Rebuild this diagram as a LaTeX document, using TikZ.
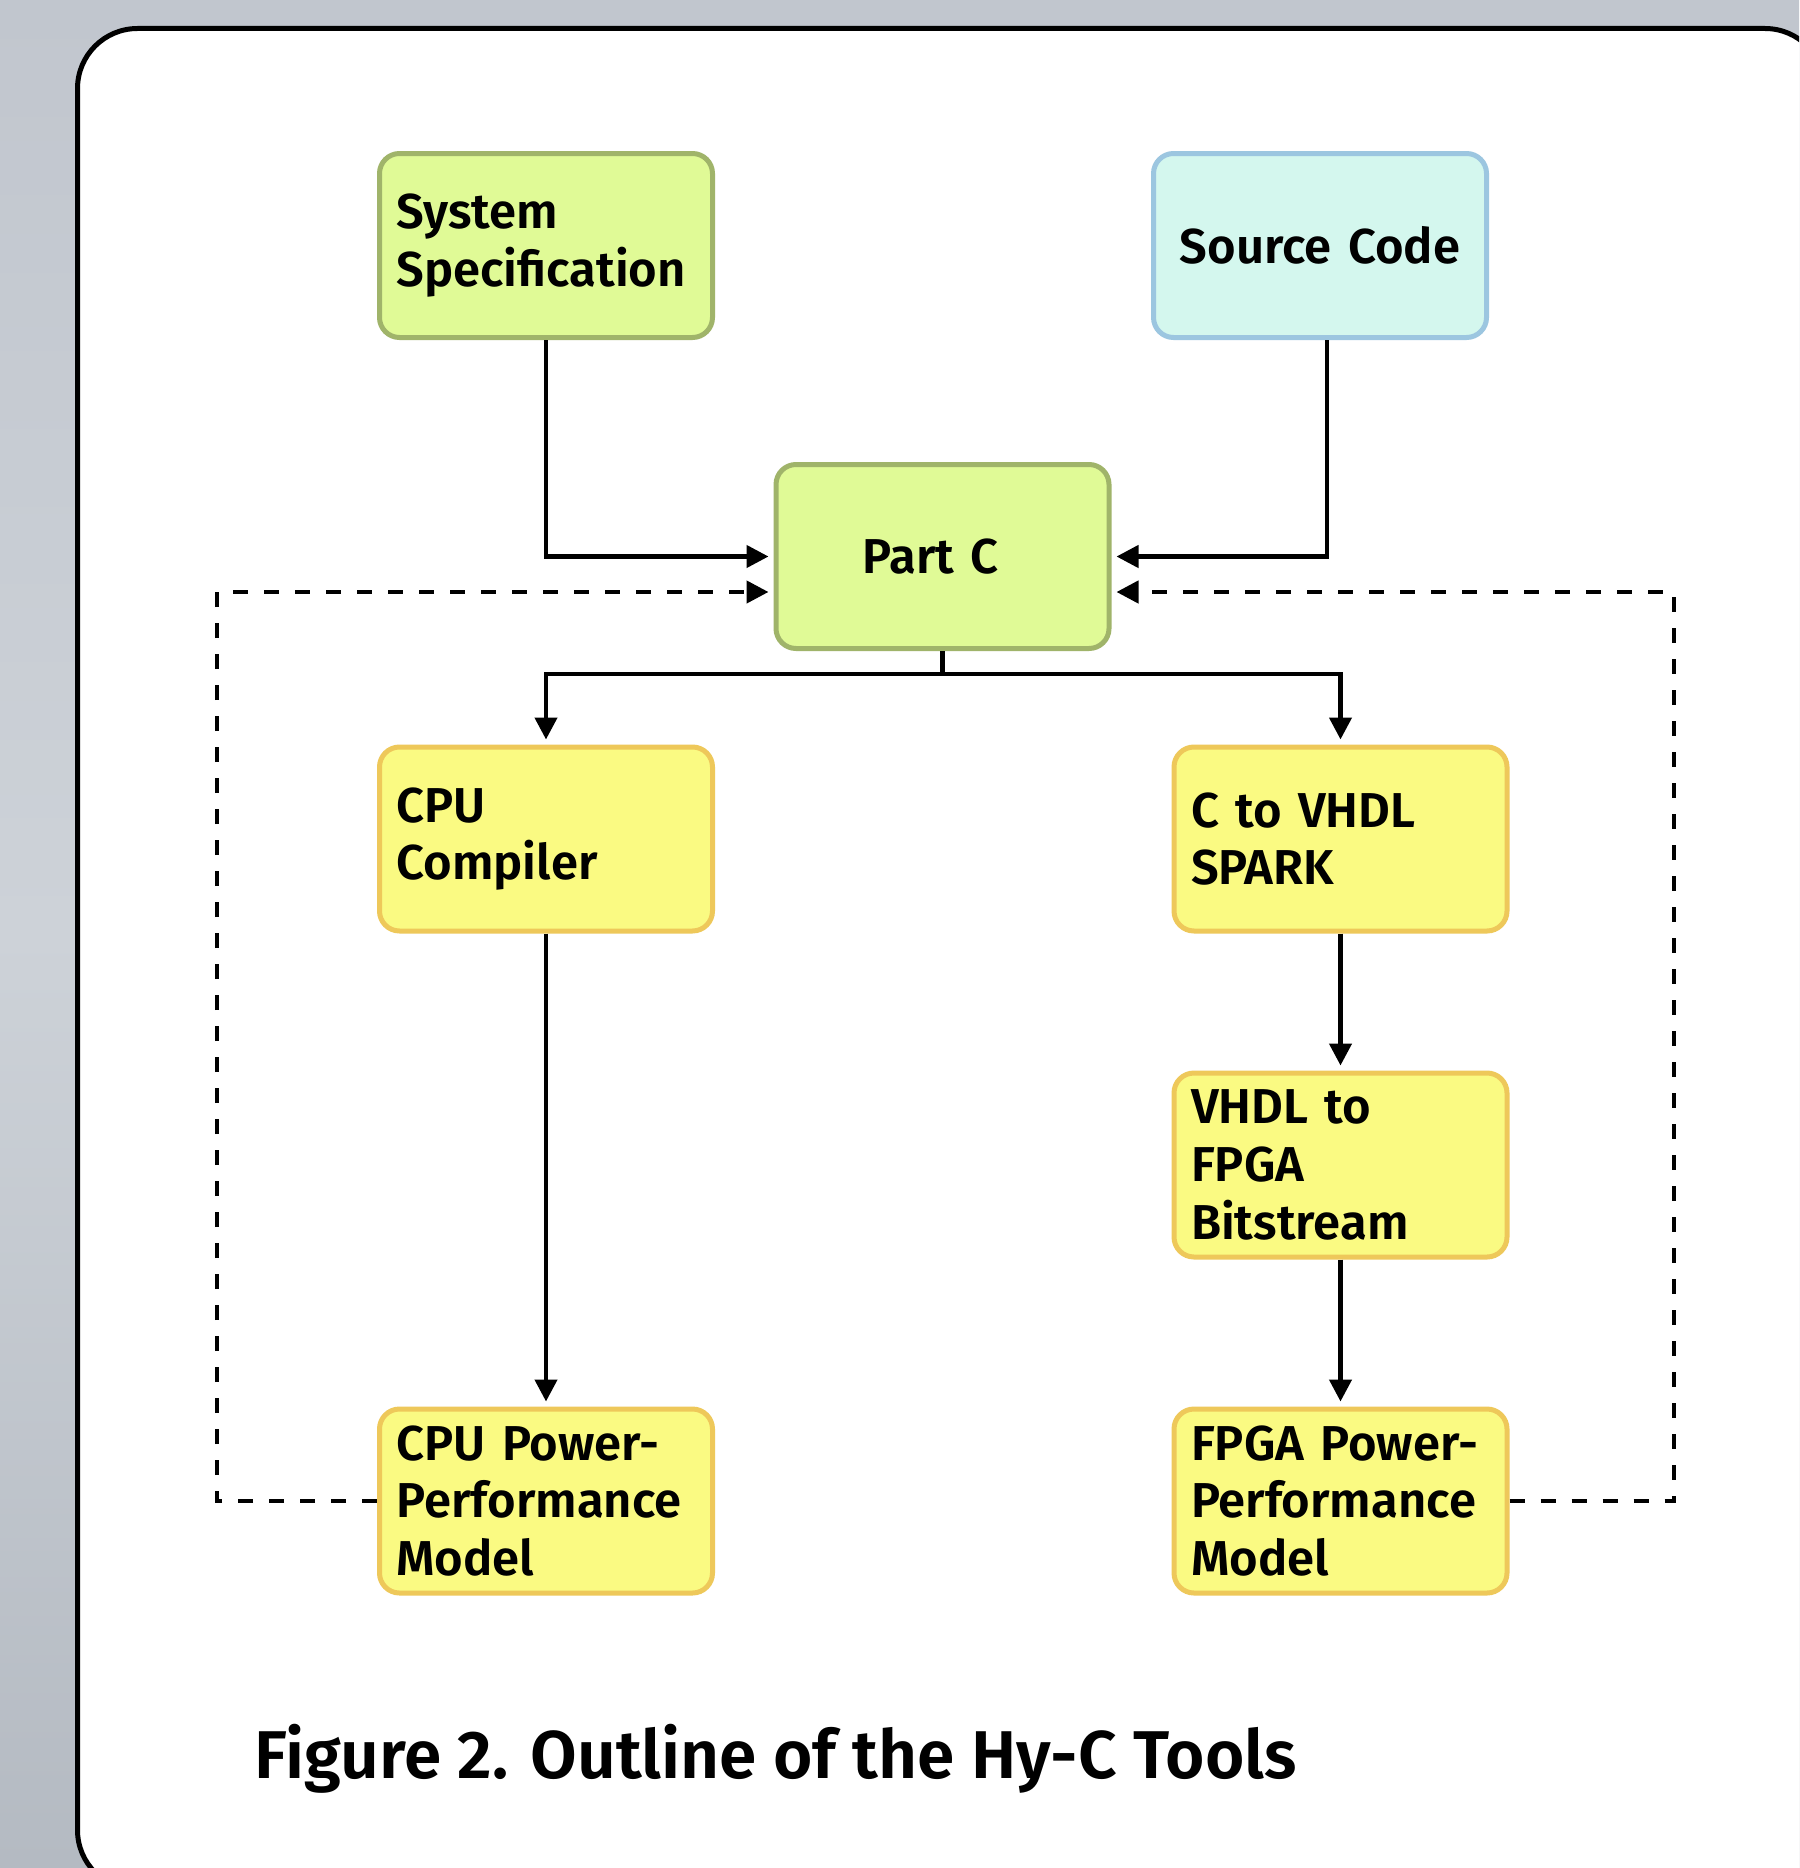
\documentclass[tikz,border=0pt]{standalone}
\usepackage{fontspec}
\setmainfont{Fira Sans}[BoldFont={Fira Sans SemiBold}]
\usetikzlibrary{arrows.meta,calc}

\definecolor{bgtop}{RGB}{193,198,206}
\definecolor{bgmid}{RGB}{205,210,216}
\definecolor{bgbot}{RGB}{180,186,194}
\definecolor{greenfill}{RGB}{224,250,150}
\definecolor{greenline}{RGB}{160,180,106}
\definecolor{bluefill}{RGB}{212,247,238}
\definecolor{blueline}{RGB}{156,198,224}
\definecolor{yellowfill}{RGB}{250,250,130}
\definecolor{yellowline}{RGB}{238,200,90}

\tikzset{
  box/.style={draw, line width=2.5pt, rounded corners=10pt,
    minimum width=166.5pt, minimum height=92pt, inner ysep=0pt,
    inner xsep=8.5pt, text width=149.5pt, align=left,
    font=\fontsize{24.5pt}{28.9pt}\selectfont\bfseries},
  centerbox/.style={box, align=center},
  greenbox/.style={fill=greenfill, draw=greenline},
  bluebox/.style={fill=bluefill, draw=blueline},
  yellowbox/.style={fill=yellowfill, draw=yellowline},
  conn/.style={line width=2.2pt, -{Triangle[length=11pt,width=11pt]}, shorten >=2.5pt},
  feedback/.style={conn, dash pattern=on 7.5pt off 8pt},
  plainline/.style={line width=2.2pt}
}

\begin{document}
\begin{tikzpicture}[x=0.5pt, y=-0.5pt]
  \useasboundingbox (0,0) rectangle (1799,1868);
  \clip (0,0) rectangle (1799,1868);

  % backdrop and the rounded frame
  \shade[top color=bgtop, bottom color=bgbot, middle color=bgmid] (0,0) rectangle (1799,1868);
  \draw[line width=2.5pt, fill=white, rounded corners=30pt] (77.5,28.5) rectangle (1825,1890);

  % blocks
  \node[box, greenbox] (sys) at (546,245.5) {System\\Specification};
  \node[centerbox, bluebox] (src) at (1320,245.5) {Source Code};
  \node[centerbox, greenbox] (part) at (942.5,556.5) {Part C\hspace*{12pt}\mbox{}};
  \node[box, yellowbox] (cpuc) at (546,839) {CPU\\Compiler};
  \node[box, yellowbox] (c2v) at (1340.5,839) {C to VHDL\\SPARK};
  \node[box, yellowbox] (v2f) at (1340.5,1165) {VHDL to\\FPGA\\Bitstream};
  \node[box, yellowbox] (cpup) at (546,1501) {CPU Power-\\Performance\\Model};
  \node[box, yellowbox] (fpp) at (1340.5,1501) {FPGA Power-\\Performance\\Model};

  % inputs to Part C
  \draw[conn] (sys.south) |- (part.west);
  \draw[conn] ([xshift=3.5pt]src.south) |- (part.east);

  % Part C splits into the CPU and FPGA flows
  \coordinate (split) at (942.5,674);
  \draw[plainline] (part.south) -- (split);
  \draw[conn] (split) -| (cpuc.north);
  \draw[conn] (split) -| (c2v.north);

  \draw[conn] (cpuc.south) -- (cpup.north);
  \draw[conn] (c2v.south) -- (v2f.north);
  \draw[conn] (v2f.south) -- (fpp.north);

  % feedback from the power-performance models
  \coordinate (fbL) at (217,592);
  \coordinate (fbR) at (1674,592);
  \draw[feedback] (cpup.west) -| (fbL) -- (fbL -| part.west);
  \draw[feedback] (fpp.east) -| (fbR) -- (fbR -| part.east);

  % caption
  \node[anchor=base west, inner sep=0pt, font=\fontsize{33.8pt}{40pt}\selectfont\bfseries]
    (cap) at (254,1778) {Figure 2. Outline of the Hy-C Tools};
\end{tikzpicture}
\end{document}
